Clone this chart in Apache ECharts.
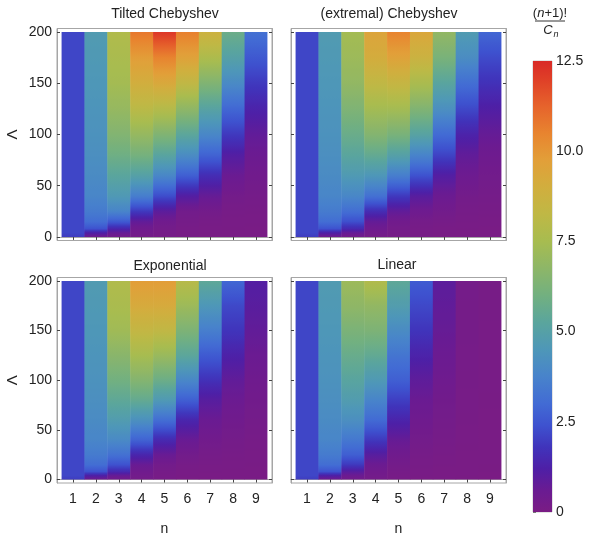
<!DOCTYPE html>
<html>
<head>
<meta charset="utf-8">
<script src="https://cdn.jsdelivr.net/npm/echarts@6/dist/echarts.min.js"></script>
<style>
html,body{margin:0;padding:0;background:#fff;}
#chart{width:590px;height:537px;}
</style>
</head>
<body>
<div id="chart"></div>
<script>
// ---------------- DATA ----------------
const nValues = [1, 2, 3, 4, 5, 6, 7, 8, 9];
const lambdas = [0, 4, 8, 15, 25, 40, 60, 80, 100, 125, 150, 175, 200];
const yTickValues = [0, 50, 100, 150, 200];
const colorbarTicks = [0, 2.5, 5, 7.5, 10, 12.5];

// (n+1)!/C_n, one row per n, values at the lambdas above
const tiltedChebyshev = [
  [1.95, 2.15, 2.15, 2.15, 2.15, 2.15, 2.15, 2.15, 2.15, 2.15, 2.15, 2.15, 2.15],
  [0.5, 1.2, 2.4, 3.1, 3.5, 3.85, 4.05, 4.2, 4.3, 4.4, 4.5, 4.6, 4.7],
  [0.3, 0.7, 1.4, 2.6, 3.8, 4.6, 5.25, 5.9, 6.45, 7.0, 7.4, 7.6, 7.8],
  [0.2, 0.3, 0.4, 0.8, 1.9, 3.6, 5.0, 6.1, 7.0, 8.1, 9.0, 9.8, 10.8],
  [0.15, 0.18, 0.22, 0.38, 0.9, 2.3, 3.9, 5.2, 6.4, 7.9, 9.3, 10.5, 12.2],
  [0.1, 0.1, 0.12, 0.18, 0.3, 1.1, 2.7, 4.1, 5.3, 6.8, 8.3, 9.6, 10.6],
  [0.05, 0.06, 0.08, 0.12, 0.25, 0.7, 1.6, 2.8, 3.9, 5.1, 6.4, 7.7, 8.8],
  [0.05, 0.05, 0.06, 0.08, 0.12, 0.25, 0.6, 1.1, 1.9, 2.9, 4.0, 5.0, 5.8],
  [0.05, 0.05, 0.05, 0.07, 0.1, 0.2, 0.35, 0.55, 0.8, 1.3, 1.9, 2.55, 3.2]
];
const extremalChebyshev = [
  [1.95, 2.15, 2.15, 2.15, 2.15, 2.15, 2.15, 2.15, 2.15, 2.15, 2.15, 2.15, 2.15],
  [0.5, 1.2, 2.4, 3.1, 3.5, 3.85, 4.05, 4.2, 4.3, 4.4, 4.5, 4.6, 4.7],
  [0.3, 0.7, 1.5, 2.35, 3.1, 3.9, 4.65, 5.25, 5.75, 6.35, 6.9, 7.2, 7.4],
  [0.2, 0.3, 0.45, 0.75, 1.6, 3.2, 4.5, 5.55, 6.5, 7.4, 8.3, 9.1, 9.5],
  [0.15, 0.18, 0.22, 0.35, 0.8, 1.9, 3.6, 5.0, 6.2, 7.4, 8.5, 9.6, 10.5],
  [0.1, 0.1, 0.12, 0.2, 0.45, 1.0, 2.4, 3.8, 5.1, 6.4, 7.6, 8.7, 9.4],
  [0.05, 0.06, 0.08, 0.15, 0.3, 0.55, 1.1, 2.1, 3.0, 4.2, 5.2, 6.2, 6.9],
  [0.05, 0.05, 0.06, 0.1, 0.15, 0.25, 0.5, 0.8, 1.3, 2.2, 3.1, 4.1, 4.7],
  [0.05, 0.05, 0.05, 0.08, 0.12, 0.2, 0.3, 0.45, 0.7, 1.15, 1.7, 2.25, 2.9]
];
const exponential = [
  [1.95, 2.15, 2.15, 2.15, 2.15, 2.15, 2.15, 2.15, 2.15, 2.15, 2.15, 2.15, 2.15],
  [0.5, 1.2, 2.4, 3.1, 3.5, 3.85, 4.05, 4.2, 4.3, 4.4, 4.5, 4.6, 4.7],
  [0.3, 0.7, 1.5, 2.4, 3.2, 4.0, 4.75, 5.4, 6.0, 6.65, 7.3, 7.6, 7.8],
  [0.2, 0.3, 0.4, 0.65, 1.4, 2.8, 4.25, 5.55, 6.5, 7.5, 8.4, 9.2, 9.8],
  [0.1, 0.12, 0.16, 0.28, 0.65, 1.5, 3.1, 4.6, 5.8, 7.1, 8.3, 9.2, 9.8],
  [0.05, 0.06, 0.08, 0.14, 0.3, 0.65, 1.4, 2.7, 3.9, 5.3, 6.3, 7.2, 8.0],
  [0.05, 0.05, 0.06, 0.1, 0.18, 0.33, 0.6, 1.0, 1.7, 2.6, 3.6, 4.5, 5.4],
  [0.05, 0.05, 0.05, 0.08, 0.12, 0.22, 0.37, 0.55, 0.8, 1.25, 1.8, 2.2, 2.9],
  [0.03, 0.03, 0.04, 0.06, 0.08, 0.14, 0.23, 0.32, 0.42, 0.58, 0.78, 0.97, 1.1]
];
const linear = [
  [1.95, 2.15, 2.15, 2.15, 2.15, 2.15, 2.15, 2.15, 2.15, 2.15, 2.15, 2.15, 2.15],
  [0.5, 1.2, 2.4, 3.1, 3.5, 3.85, 4.05, 4.2, 4.3, 4.4, 4.5, 4.6, 4.7],
  [0.3, 0.55, 1.0, 1.9, 2.7, 3.4, 4.2, 4.75, 5.2, 5.7, 6.25, 6.8, 7.2],
  [0.2, 0.28, 0.35, 0.55, 1.0, 1.9, 3.0, 3.8, 4.6, 5.5, 6.3, 6.9, 7.8],
  [0.1, 0.12, 0.16, 0.25, 0.38, 0.7, 1.35, 2.0, 2.7, 3.3, 4.05, 4.8, 5.4],
  [0.05, 0.06, 0.08, 0.11, 0.15, 0.27, 0.42, 0.6, 0.85, 1.3, 1.8, 2.2, 2.6],
  [0.03, 0.03, 0.04, 0.06, 0.1, 0.16, 0.24, 0.32, 0.43, 0.56, 0.68, 0.8, 0.9],
  [0.02, 0.02, 0.03, 0.04, 0.05, 0.07, 0.1, 0.12, 0.14, 0.16, 0.18, 0.19, 0.2],
  [0.01, 0.01, 0.02, 0.02, 0.03, 0.04, 0.05, 0.06, 0.07, 0.08, 0.09, 0.1, 0.1]
];

// colour scale (value -> colour)
const cmapValues = [0, 0.6, 1.2, 1.8, 2.4, 3.0, 3.75, 4.5, 5.25, 6.0, 6.75, 7.5, 8.25, 9.0, 9.75, 10.5, 11.25, 12.0, 12.5];
const cmapColors = ['#7a1c84', '#6a1b92', '#4e1fa6', '#4034bb', '#3e52cf', '#426bd4', '#4883cb', '#4e97b8', '#5aa59d', '#72b080', '#8db668', '#a7bc50', '#bfb845', '#d1ae3e', '#e29f39', '#e8842f', '#e6632c', '#df3f27', '#d92a27'];

// ---------------- LAYOUT ----------------
const FONT = 'Liberation Sans, Arial, sans-serif';
const TXT = '#222';
const FRAME = '#a6a6a6';
const panels = [
  { title: 'Tilted Chebyshev', data: tiltedChebyshev, left: 57, top: 28.5, showY: true, showX: false, tx: 165, ty: 14 },
  { title: '(extremal) Chebyshev', data: extremalChebyshev, left: 291, top: 28.5, showY: false, showX: false, tx: 389, ty: 14 },
  { title: 'Exponential', data: exponential, left: 57, top: 277.5, showY: true, showX: true, tx: 170, ty: 266 },
  { title: 'Linear', data: linear, left: 291, top: 277.5, showY: false, showX: true, tx: 397, ty: 265 }
];
const PW = 215, PH = 212;

function hexToRgb(h) { return [parseInt(h.substr(1, 2), 16), parseInt(h.substr(3, 2), 16), parseInt(h.substr(5, 2), 16)]; }
const cmapRgb = cmapColors.map(hexToRgb);
function cmap(v) {
  if (v <= cmapValues[0]) return cmapColors[0];
  const last = cmapValues.length - 1;
  if (v >= cmapValues[last]) return cmapColors[last];
  let i = 0;
  while (v > cmapValues[i + 1]) i++;
  const t = (v - cmapValues[i]) / (cmapValues[i + 1] - cmapValues[i]);
  const a = cmapRgb[i], b = cmapRgb[i + 1];
  return 'rgb(' + a.map((c, k) => Math.round(c + (b[k] - c) * t)).join(',') + ')';
}

const grids = [], xAxes = [], yAxes = [], series = [], graphics = [];
const NL = lambdas.length;

panels.forEach((p, i) => {
  grids.push({ left: p.left, top: p.top, width: PW, height: PH, show: true, borderColor: FRAME, borderWidth: 1, backgroundColor: '#fff' });
  const xBase = {
    type: 'value', gridIndex: i, min: 0.3, max: 9.7,
    axisLine: { show: true, lineStyle: { color: FRAME } },
    splitLine: { show: false },
    axisTick: { show: true, inside: true, length: 3, customValues: nValues, lineStyle: { color: '#444' } }
  };
  xAxes.push(Object.assign({}, xBase, {
    position: 'bottom',
    name: p.showX ? 'n' : '', nameLocation: 'middle', nameGap: 39,
    nameTextStyle: { fontFamily: FONT, fontSize: 14, color: TXT },
    axisLabel: { show: p.showX, customValues: nValues, margin: 9, fontFamily: FONT, fontSize: 14, color: TXT }
  }));
  xAxes.push(Object.assign({}, xBase, { position: 'top', axisLabel: { show: false, customValues: nValues } }));
  const yBase = {
    type: 'value', gridIndex: i, min: -3.5, max: 203.5,
    axisLine: { show: true, lineStyle: { color: FRAME } },
    splitLine: { show: false },
    axisTick: { show: true, inside: true, length: 3, customValues: yTickValues, lineStyle: { color: '#444' } }
  };
  yAxes.push(Object.assign({}, yBase, {
    position: 'left',
    name: p.showY ? 'Λ' : '', nameLocation: 'middle', nameGap: 37, nameRotate: 90,
    nameTextStyle: { fontFamily: FONT, fontSize: 15, color: TXT },
    axisLabel: { show: p.showY, customValues: yTickValues, margin: 5, fontFamily: FONT, fontSize: 14, color: TXT }
  }));
  yAxes.push(Object.assign({}, yBase, { position: 'right', axisLabel: { show: false, customValues: yTickValues } }));

  // one column per n: [n, lambdaMin, lambdaMax, v(lambda_0), ..., v(lambda_last)]
  const items = p.data.map((row, ni) => [nValues[ni], lambdas[0], lambdas[NL - 1]].concat(row));
  series.push({
    type: 'custom', xAxisIndex: 2 * i, yAxisIndex: 2 * i, clip: true,
    encode: { x: 0, y: [1, 2] },
    data: items,
    renderItem: function (params, api) {
      const n = api.value(0), lmin = api.value(1), lmax = api.value(2);
      const tl = api.coord([n - 0.5, lmax]);
      const br = api.coord([n + 0.5, lmin]);
      const stops = [];
      for (let k = NL - 1; k >= 1; k--) {
        const la = lambdas[k], lb = lambdas[k - 1];
        const va = api.value(3 + k), vb = api.value(3 + k - 1);
        const sub = 6;
        for (let s = 0; s < sub; s++) {
          const t = s / sub;
          const lam = la + (lb - la) * t;
          stops.push({ offset: (lmax - lam) / (lmax - lmin), color: cmap(va + (vb - va) * t) });
        }
      }
      stops.push({ offset: 1, color: cmap(api.value(3)) });
      return {
        type: 'rect',
        shape: { x: tl[0], y: tl[1], width: br[0] - tl[0] + (n < 9 ? 0.5 : 0), height: br[1] - tl[1] },
        style: { fill: new echarts.graphic.LinearGradient(0, 0, 0, 1, stops) }
      };
    }
  });
  graphics.push({ type: 'text', x: p.tx, y: p.ty, style: { text: p.title, align: 'center', verticalAlign: 'middle', fontFamily: FONT, fontSize: 14, fill: TXT } });
});

// colour bar
const cbIndex = panels.length;
grids.push({ left: 533, top: 61, width: 19, height: 451, show: true, borderColor: '#c8c8c8', borderWidth: 1 });
xAxes.push({ type: 'value', gridIndex: cbIndex, min: 0, max: 1, show: false });
yAxes.push({
  type: 'value', gridIndex: cbIndex, min: 0, max: 12.5, interval: 2.5, position: 'right',
  axisLine: { show: false },
  splitLine: { show: false },
  axisTick: { show: true, inside: false, length: 3, lineStyle: { color: '#777' } },
  minorTick: { show: true, splitNumber: 5, length: 2, lineStyle: { color: '#aaa' } },
  axisLabel: { margin: 4, fontFamily: FONT, fontSize: 14, color: TXT, customValues: colorbarTicks,
    formatter: v => (v === 0 ? '0' : v.toFixed(1)) }
});
series.push({
  type: 'custom', xAxisIndex: 2 * cbIndex, yAxisIndex: 2 * cbIndex,
  encode: { x: 0, y: [1, 2] },
  data: [[0, 0, 12.5]],
  renderItem: function (params, api) {
    const tl = api.coord([0, api.value(2)]);
    const br = api.coord([1, api.value(1)]);
    const top = api.value(2), bot = api.value(1);
    const stops = cmapValues.map((v, i) => ({ offset: (top - v) / (top - bot), color: cmapColors[i] })).reverse();
    return { type: 'rect', shape: { x: tl[0], y: tl[1], width: br[0] - tl[0], height: br[1] - tl[1] },
      style: { fill: new echarts.graphic.LinearGradient(0, 0, 0, 1, stops) } };
  }
});

// colour bar header: (n+1)! / C_n
graphics.push({ type: 'text', x: 550, y: 13, style: { text: '{a|(}{i|n}{a|+1)!}', align: 'center', verticalAlign: 'middle',
  rich: { a: { fontFamily: FONT, fontSize: 13, fill: TXT }, i: { fontFamily: FONT, fontSize: 13, fontStyle: 'italic', fill: TXT } } } });
graphics.push({ type: 'line', shape: { x1: 535, y1: 21, x2: 565, y2: 21 }, style: { stroke: '#333', lineWidth: 1 } });
graphics.push({ type: 'text', x: 548, y: 30, style: { text: 'C', align: 'center', verticalAlign: 'middle', fontFamily: FONT, fontSize: 13, fontStyle: 'italic', fill: TXT } });
graphics.push({ type: 'text', x: 556, y: 34, style: { text: 'n', align: 'center', verticalAlign: 'middle', fontFamily: FONT, fontSize: 9, fontStyle: 'italic', fill: TXT } });

const chart = echarts.init(document.getElementById('chart'), null, { renderer: 'canvas' });
chart.setOption({
  animation: false,
  backgroundColor: '#fff',
  grid: grids,
  xAxis: xAxes,
  yAxis: yAxes,
  series: series,
  graphic: graphics
});
</script>
</body>
</html>
